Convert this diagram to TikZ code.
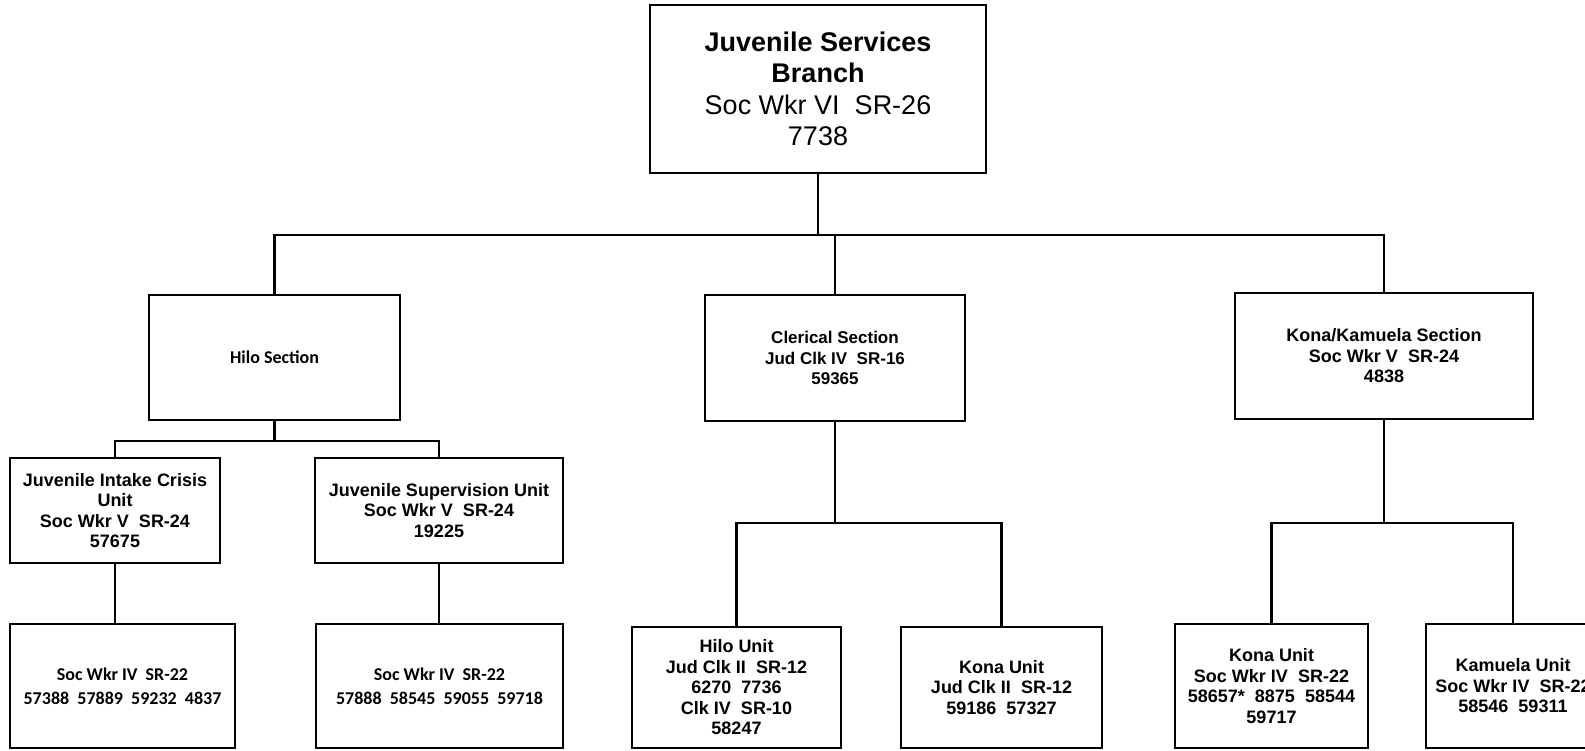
\documentclass[tikz,border=0pt]{standalone}
\usepackage{fontspec}
\setmainfont{Liberation Sans}
\newfontfamily\calfont{Carlito}
\begin{document}
\begin{tikzpicture}[x=1pt,y=-1pt,
  box/.style={draw, line width=2.6pt, rectangle, inner sep=0pt, align=center},
  conn/.style={line width=2.2pt},
  topfont/.style={font=\fontsize{27}{31.5}\selectfont},
  midfont/.style={font=\bfseries\fontsize{17}{20.5}\selectfont},
  bigmid/.style={font=\bfseries\fontsize{18}{20.5}\selectfont},
  calf/.style={font=\calfont\bfseries\fontsize{18}{23.5}\selectfont}]
\useasboundingbox[fill=white] (0,0) rectangle (1585,750);

\node[box, topfont, minimum width=336pt, minimum height=168pt] (top) at (818,89)
  {\textbf{Juvenile Services}\\ \textbf{Branch}\\ Soc Wkr VI\ \ SR-26\\ 7738};

\node[box, calf, minimum width=251pt, minimum height=125pt] (hilo) at (274.5,357.5) {Hilo Section};
\node[box, midfont, minimum width=260pt, minimum height=126pt] (cler) at (835,358)
  {Clerical Section\\ Jud Clk IV\ \ SR-16\\ 59365};
\node[box, bigmid, minimum width=298pt, minimum height=126pt] (kk) at (1384,356)
  {Kona/Kamuela Section\\ Soc Wkr V\ \ SR-24\\ 4838};

\node[box, bigmid, minimum width=210pt, minimum height=105pt] (intake) at (115,510.5)
  {Juvenile Intake Crisis\\ Unit\\ Soc Wkr V\ \ SR-24\\ 57675};
\node[box, bigmid, minimum width=248pt, minimum height=105pt] (sup) at (439,510.5)
  {Juvenile Supervision Unit\\ Soc Wkr V\ \ SR-24\\ 19225};

\node[box, calf, minimum width=225pt, minimum height=124pt] (ic) at (122.5,686)
  {Soc Wkr IV\ \ SR-22\\ 57388\ \ 57889\ \ 59232\ \ 4837};
\node[box, calf, minimum width=247pt, minimum height=124pt] (sc) at (439.5,686)
  {Soc Wkr IV\ \ SR-22\\ 57888\ \ 58545\ \ 59055\ \ 59718};

\node[box, bigmid, minimum width=209pt, minimum height=121pt] (hu) at (736.5,687.5)
  {Hilo Unit\\ Jud Clk II\ \ SR-12\\ 6270\ \ 7736\\ Clk IV\ \ SR-10\\ 58247};
\node[box, bigmid, minimum width=201pt, minimum height=121pt] (kuc) at (1001.5,687.5)
  {Kona Unit\\ Jud Clk II\ \ SR-12\\ 59186\ \ 57327};
\node[box, bigmid, minimum width=193pt, minimum height=124pt] (kus) at (1271.5,686)
  {Kona Unit\\ Soc Wkr IV\ \ SR-22\\ 58657*\ \ 8875\ \ 58544\\ 59717};
\node[box, bigmid, minimum width=174pt, minimum height=124pt] (kam) at (1513,686)
  {Kamuela Unit\\ Soc Wkr IV\ \ SR-22\\ 58546\ \ 59311};

\coordinate (bar) at (0,235);
\coordinate (hb) at (0,441);
\coordinate (cb) at (0,523);

\draw[conn] (top.south) -- (top.south |- bar);
\draw[conn] (hilo.north) -- (hilo.north |- bar) -- (kk.north |- bar) -- (kk.north);
\draw[conn] (cler.north) -- (cler.north |- bar);

\draw[conn] (hilo.south) -- (hilo.south |- hb);
\draw[conn] (intake.north) -- (intake.north |- hb) -- (sup.north |- hb) -- (sup.north);
\draw[conn] (intake.south) -- (intake.south |- ic.north);
\draw[conn] (sup.south) -- (sup.south |- sc.north);

\draw[conn] (cler.south) -- (cler.south |- cb);
\draw[conn] (hu.north) -- (hu.north |- cb) -- (kuc.north |- cb) -- (kuc.north);

\draw[conn] (kk.south) -- (kk.south |- cb);
\draw[conn] (kus.north) -- (kus.north |- cb) -- (kam.north |- cb) -- (kam.north);
\end{tikzpicture}
\end{document}
